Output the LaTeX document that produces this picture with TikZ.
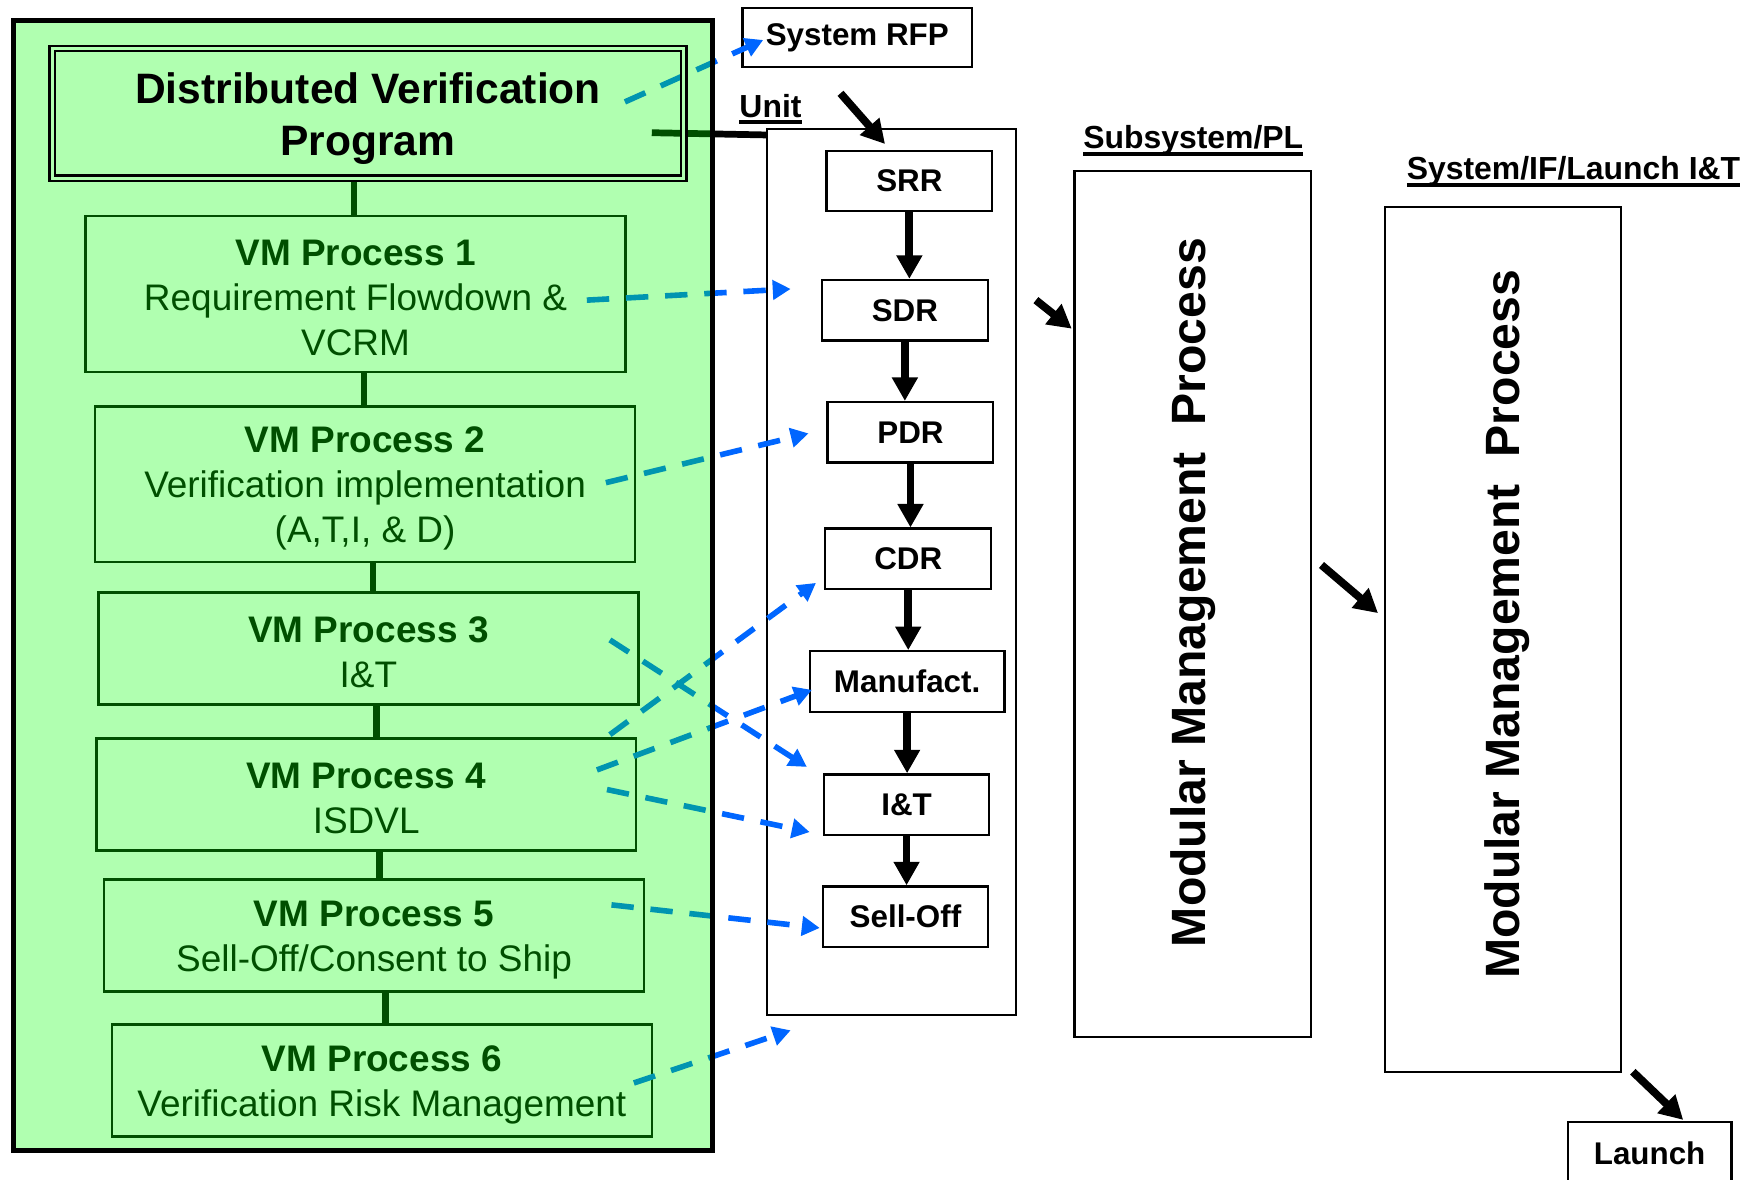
\documentclass[tikz,border=0pt]{standalone}
\usepackage{fontspec}
\setmainfont{Liberation Sans}
\usetikzlibrary{arrows.meta}

\pgfdeclarelayer{veil}
\pgfdeclarelayer{front}
\pgfsetlayers{main,veil,front}

\definecolor{linkblue}{RGB}{0,102,255}
\definecolor{veilgreen}{RGB}{176,255,176}

\newcommand{\ulabel}[1]{\setbox0\hbox{#1}\rlap{\rule[-6.5pt]{\wd0}{3.5pt}}\box0}
\newcommand{\vmhead}[1]{\rule{0pt}{30pt}{\bfseries VM Process #1}}

\tikzset{
  dvpbox/.style={draw, line width=2pt, double=veilgreen, double distance=3pt,
    inner sep=0pt, align=center, minimum width=564pt, minimum height=116pt,
    font=\fontsize{38}{46}\selectfont\bfseries},
  vmbox/.style={draw, line width=2.2pt, inner sep=0pt, align=center,
    minimum width=482pt, font=\fontsize{33}{40}\selectfont},
  stagebox/.style={draw, line width=2pt, inner sep=0pt, minimum width=148pt,
    minimum height=54pt, font=\fontsize{28}{32}\selectfont\bfseries},
  tallbox/.style={draw, line width=2pt, inner sep=0pt, minimum width=211pt,
    minimum height=773pt},
  sidetext/.style={rotate=90, inner sep=0pt, font=\fontsize{43}{48}\selectfont\bfseries},
  heading/.style={anchor=base, inner sep=0pt, font=\fontsize{28.5}{32}\selectfont\bfseries},
  tie/.style={line width=6pt},
  flow/.style={line width=7pt, -{Triangle[length=21pt,width=22pt]}},
  link/.style={linkblue, line width=5pt, dash pattern=on 20pt off 15pt,
    -{Triangle[length=16pt,width=17pt]}}
}

\begin{document}
\begin{tikzpicture}[x=1pt,y=-1pt]
\useasboundingbox (0,0) rectangle (1568,1053);

		% verification program column
		\begin{pgfonlayer}{front}
		\node[dvpbox] (dvp) at (328.6,101.3) {\rule{0pt}{37pt}Distributed Verification\\Program};
		\draw[line width=4.5pt] (12,18) rectangle (636,1027);
		\end{pgfonlayer}
		\node[vmbox, minimum height=139pt] (vm1) at (317.5,262.5) {\vmhead{1}\\Requirement Flowdown \&\\VCRM};
		\node[vmbox, minimum height=139pt] (vm2) at (326,432.5) {\vmhead{2}\\Verification implementation\\(A,T,I, \& D)};
		\node[vmbox, minimum height=100pt] (vm3) at (329,579) {\vmhead{3}\\I\&T};
		\node[vmbox, minimum height=100pt] (vm4) at (327,709.5) {\vmhead{4}\\ISDVL};
		\node[vmbox, minimum height=100pt] (vm5) at (334,835.5) {\vmhead{5}\\Sell-Off/Consent to Ship};
		\node[vmbox, minimum height=100pt] (vm6) at (341,965) {\vmhead{6}\\Verification Risk Management};

		\draw[tie] (316,0 |- dvp.south) -- (316,0 |- vm1.north);
		\foreach \a/\b/\x in {vm1/vm2/325, vm2/vm3/333, vm3/vm4/336, vm4/vm5/339, vm5/vm6/344}
			\draw[tie] (\x,0 |- \a.south) -- (\x,0 |- \b.north);

		% unit level
		\node[stagebox, minimum width=205pt, minimum height=53pt] (rfp) at (765.5,33.5) {System RFP};
		\node[heading] (unitlab) at (688,104.5) {\ulabel{Unit}};
		\node[draw, line width=1.8pt, minimum width=222pt, minimum height=791pt] (unit) at (796,510.5) {};
		\node[stagebox] (srr) at (812,161.5) {SRR};
		\node[stagebox] (sdr) at (808,277) {SDR};
		\node[stagebox] (pdr) at (813,386) {PDR};
		\node[stagebox] (cdr) at (811,499) {CDR};
		\node[stagebox, minimum width=174pt] (mfg) at (810,608.5) {Manufact.};
		\node[stagebox, minimum width=147pt] (int) at (809.5,718.5) {I\&T};
		\node[stagebox, minimum width=147pt] (sell) at (808.5,818.5) {Sell-Off};
		\foreach \a/\b in {srr/sdr, sdr/pdr, pdr/cdr, cdr/mfg, mfg/int, int/sell}
			\draw[flow] (\a.south) -- (\a.south |- \b.north);

		\draw[tie] (582,118.5) -- (unit.west |- 0,120.5);

		% subsystem and system levels
		\node[heading] (sublab) at (1065.5,132.4) {\ulabel{Subsystem/PL}};
		\node[tallbox] (sub) at (1065,539.5) {};
		\node[sidetext] (subtext) at (1065,529) {Modular Management\ \ Process};
		\node[heading] (syslab) at (1405,160.7) {\ulabel{System/IF/Launch I\&T}};
		\node[tallbox] (sys) at (1342,571) {};
		\node[sidetext] (systext) at (1346,557.5) {Modular Management\ \ Process};
		\node[stagebox, minimum width=146pt, minimum height=56pt] (launch) at (1473,1030) {Launch};

		\coordinate (go1) at (750.5,83.3);
		\coordinate (go2) at (925,268);
		\coordinate (go3) at (1180,504.5);
		\coordinate (go4) at (1458,957);
		\draw[flow] (go1) -- (790.3,128.6);
		\draw[flow] (go2) -- (957,293.5);
		\draw[flow] (go3) -- (1230.5,547.5);
		\draw[flow] (go4) -- (1503,1000);

		% verification links
		\foreach \ax/\ay/\bx/\by in {558/91/681.5/35.7, 524/268/706/258, 541/431/722/387,
			544.6/571.4/720.5/684.8, 544.6/656/728.6/520.5, 533/687.5/725/616,
			542/705/723/743, 546/808/732/828.6, 566/967/706/920}
			\draw[link] (\ax,\ay) -- (\bx,\by);

		\begin{pgfonlayer}{veil}
		\fill[green, fill opacity=0.31] (12,18) rectangle (636,1027);
		\end{pgfonlayer}

\end{tikzpicture}
\end{document}
